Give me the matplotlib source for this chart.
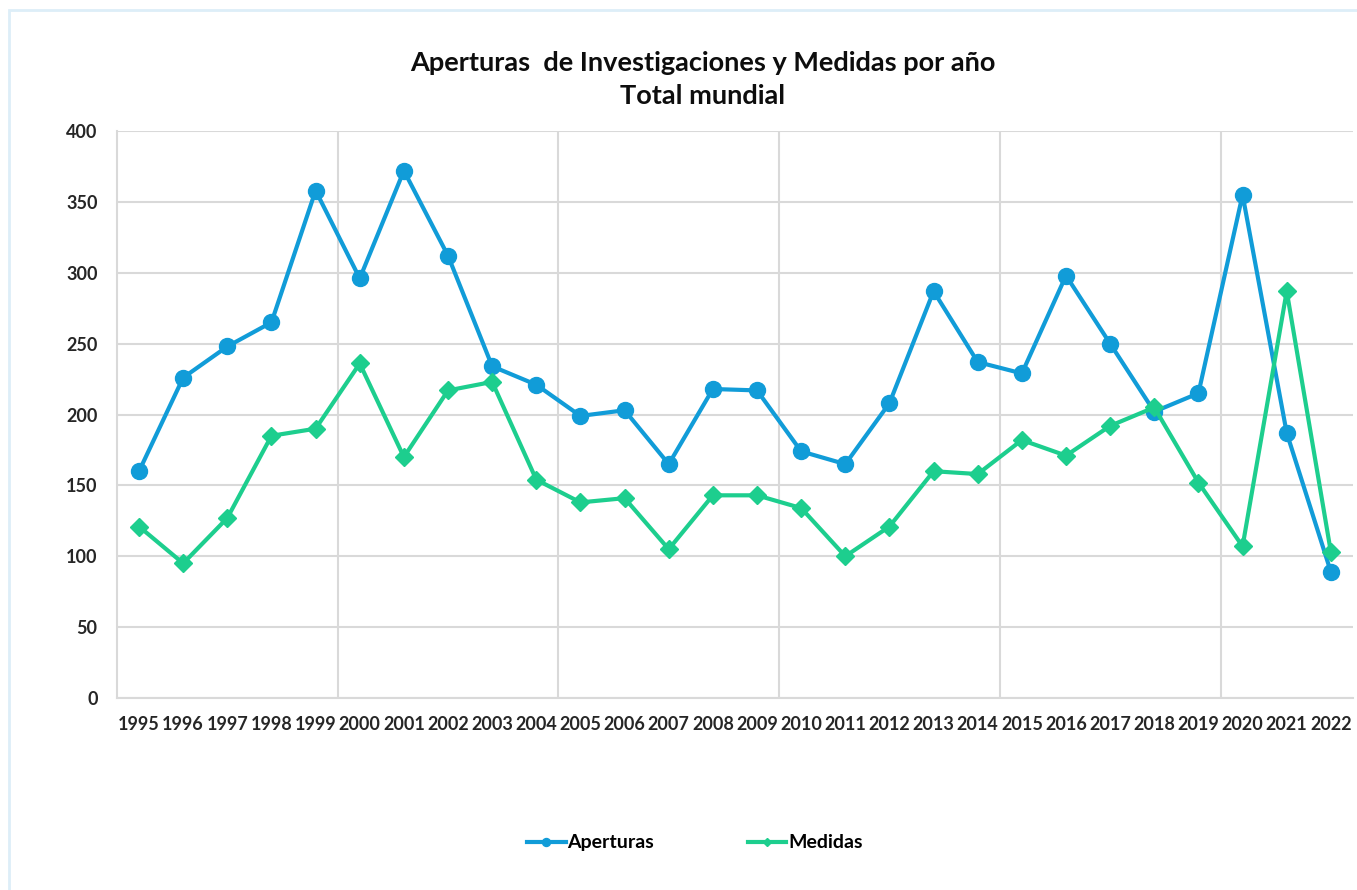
import numpy as np
import matplotlib.pyplot as plt

plt.rcParams['font.family'] = ['Lato', 'DejaVu Sans']

years = list(range(1995, 2023))
aperturas = [160, 226, 248, 265, 358, 296, 372, 312, 234, 221, 199, 203, 165, 218,
             217, 174, 165, 208, 287, 237, 229, 298, 250, 202, 215, 355, 187, 89]
medidas = [121, 95, 127, 185, 190, 236, 170, 217, 223, 154, 138, 141, 105, 143,
           143, 134, 100, 121, 160, 158, 182, 171, 192, 205, 152, 107, 287, 103]

blue = "#119CD8"
green = "#1DCE8E"
grid_c = "#D9D9D9"

fig = plt.figure(figsize=(13.57, 8.90), dpi=100)
# light frame around the chart area
fig.patches.append(plt.Rectangle((9 / 1357, -0.01), 1.02, 1 - 10 / 890 + 0.01,
                                 transform=fig.transFigure, fill=False,
                                 edgecolor="#DDEEF8", linewidth=2))
ax = fig.add_axes([0.0862, 0.2157, 0.9108, 0.6371])

ax.plot(years, aperturas, color=blue, linewidth=3, marker="o", markersize=11.5,
        label="Aperturas", zorder=3)
ax.plot(years, medidas, color=green, linewidth=3, marker="D", markersize=9,
        label="Medidas", zorder=3)

ax.set_xlim(1994.5, 2022.5)
ax.set_ylim(0, 400)
ax.set_yticks(np.arange(0, 401, 50))
ax.set_xticks(years)
ax.set_xticklabels([str(y) for y in years], fontsize=13, fontweight="bold", color="#262626")
ax.set_xticks(np.arange(1999.5, 2022, 5), minor=True)
for lbl in ax.get_yticklabels():
    lbl.set_fontsize(13)
    lbl.set_fontweight("bold")
    lbl.set_color("#262626")
ax.tick_params(axis="both", which="both", length=0)
ax.tick_params(axis="x", pad=13)
ax.tick_params(axis="y", pad=14)

ax.grid(axis="y", color=grid_c, linewidth=1.5)
ax.grid(axis="x", which="minor", color=grid_c, linewidth=1.5)
ax.set_axisbelow(True)
for s in ["top", "right"]:
    ax.spines[s].set_visible(False)
for s in ["left", "bottom"]:
    ax.spines[s].set_color(grid_c)
    ax.spines[s].set_linewidth(1.5)

fig.text(0.518, 0.911, "Aperturas  de Investigaciones y Medidas por año\nTotal mundial",
         ha="center", va="center", fontsize=19.5, fontweight="bold",
         color="#0D0D0D", linespacing=1.45)

leg = fig.legend(loc="center", bbox_to_anchor=(0.512, 0.053), ncol=2, frameon=False,
                 handlelength=2.0, handletextpad=0.1, columnspacing=4.8,
                 markerscale=0.5, prop={"size": 14, "weight": "bold"})

plt.savefig("out.png", dpi=100)
